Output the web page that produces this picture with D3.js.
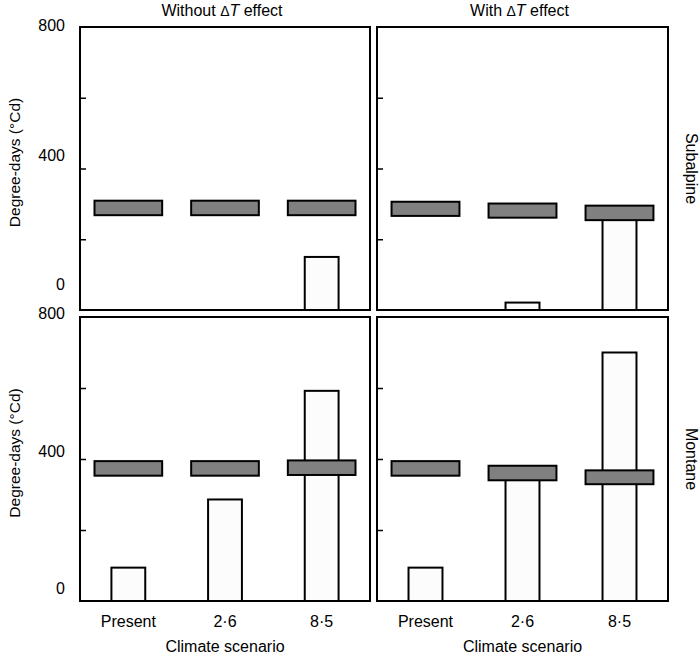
<!DOCTYPE html>
<html>
<head>
<meta charset="utf-8">
<script src="https://cdn.jsdelivr.net/npm/d3@7"></script>
<style>
  body { margin: 0; background: #fff; }
  svg { display: block; font-family: "Liberation Sans", Arial, Helvetica, sans-serif; }
</style>
</head>
<body>
<svg id="chart" width="700" height="656"></svg>
<script>
// ---- data ----
const scenarios = ["Present", "2·6", "8·5"];
const effects = ["Without", "With"];
const zones = ["Subalpine", "Montane"];
const yTickMarks = [200, 400, 600];
const yTickLabels = [0, 400, 800];

// crossbar (grey) low / high, and white bar heights, per panel
// Subalpine, without ΔT effect
const subWithoutLow  = [268, 268, 268];
const subWithoutHigh = [309, 309, 309];
const subWithoutBar  = [0, 0, 150];
// Subalpine, with ΔT effect
const subWithLow  = [266, 261, 254];
const subWithHigh = [306, 301, 295];
const subWithBar  = [0, 21, 262];
// Montane, without ΔT effect
const monWithoutLow  = [353, 353, 355];
const monWithoutHigh = [394, 394, 396];
const monWithoutBar  = [94, 286, 592];
// Montane, with ΔT effect
const monWithLow  = [353, 340, 329];
const monWithHigh = [394, 381, 368];
const monWithBar  = [94, 345, 700];

const panels = [
  {row: 0, col: 0, low: subWithoutLow, high: subWithoutHigh, bar: subWithoutBar},
  {row: 0, col: 1, low: subWithLow, high: subWithHigh, bar: subWithBar},
  {row: 1, col: 0, low: monWithoutLow, high: monWithoutHigh, bar: monWithoutBar},
  {row: 1, col: 1, low: monWithLow, high: monWithHigh, bar: monWithBar}
];

// ---- layout ----
const colX = [[80, 370], [377, 668]];
const rowY = [[27, 310], [317, 601]];
const svg = d3.select("#chart");

panels.forEach(p => {
  const [x0, x1] = colX[p.col];
  const [y0, y1] = rowY[p.row];
  const x = d3.scaleBand().domain(scenarios).range([x0, x1]).padding(0);
  const y = d3.scaleLinear().domain([0, 800]).range([y1, y0]);
  const g = svg.append("g");

  const rows = scenarios.map((s, i) => ({s, low: p.low[i], high: p.high[i], bar: p.bar[i]}));

  // white bars
  g.selectAll("rect.bar").data(rows.filter(d => d.bar > 0)).enter().append("rect")
    .attr("class", "bar")
    .attr("x", d => x(d.s) + x.bandwidth() * 0.325)
    .attr("width", x.bandwidth() * 0.35)
    .attr("y", d => y(d.bar))
    .attr("height", d => y(0) - y(d.bar))
    .attr("fill", "#fcfcfc")
    .attr("stroke", "#000")
    .attr("stroke-width", 2);

  // grey crossbars
  g.selectAll("rect.cb").data(rows).enter().append("rect")
    .attr("class", "cb")
    .attr("x", d => x(d.s) + x.bandwidth() * 0.15)
    .attr("width", x.bandwidth() * 0.7)
    .attr("y", d => y(d.high))
    .attr("height", d => y(d.low) - y(d.high))
    .attr("fill", "#808080")
    .attr("stroke", "#000")
    .attr("stroke-width", 2);

  // y tick marks (inward)
  const axis = d3.axisLeft(y).tickValues(yTickMarks).tickSizeInner(-6).tickSizeOuter(0).tickFormat("");
  const ag = g.append("g").attr("transform", `translate(${x0},0)`).call(axis);
  ag.select(".domain").remove();
  ag.selectAll("line").attr("stroke", "#000").attr("stroke-width", 1.5);

  // frame
  g.append("rect")
    .attr("x", x0).attr("y", y0)
    .attr("width", x1 - x0).attr("height", y1 - y0)
    .attr("fill", "none").attr("stroke", "#000").attr("stroke-width", 2);

  // y tick labels on left column
  if (p.col === 0) {
    const labelY = p.row === 0
      ? d3.scaleLinear().domain([0, 800]).range([290, 31])
      : d3.scaleLinear().domain([0, 800]).range([594, 319]);
    g.selectAll("text.yl").data(yTickLabels).enter().append("text")
      .attr("class", "yl")
      .attr("x", 65)
      .attr("y", d => labelY(d))
      .attr("text-anchor", "end")
      .attr("font-size", 16)
      .attr("fill", "#000")
      .text(d => d);
    g.append("text")
      .attr("transform", `translate(20,${(y0 + y1) / 2 - 6}) rotate(-90)`)
      .attr("text-anchor", "middle")
      .attr("font-size", 15.5)
      .text("Degree-days (°Cd)");
  }

  // x labels on bottom row
  if (p.row === 1) {
    g.selectAll("text.xl").data(scenarios).enter().append("text")
      .attr("class", "xl")
      .attr("x", d => x(d) + x.bandwidth() / 2)
      .attr("y", 627)
      .attr("text-anchor", "middle")
      .attr("font-size", 16)
      .text(d => d);
    g.append("text")
      .attr("x", (x0 + x1) / 2)
      .attr("y", 652)
      .attr("text-anchor", "middle")
      .attr("font-size", 16)
      .text("Climate scenario");
  }

  // column titles
  if (p.row === 0) {
    const t = g.append("text")
      .attr("x", (x0 + x1) / 2 - 3)
      .attr("y", 16)
      .attr("text-anchor", "middle")
      .attr("font-size", 16);
    t.append("tspan").text(effects[p.col] + " ");
    t.append("tspan").attr("font-size", 14).text("Δ");
    t.append("tspan").attr("font-style", "italic").text("T");
    t.append("tspan").text(" effect");
  }

  // strip labels on right column
  if (p.col === 1) {
    g.append("text")
      .attr("transform", `translate(686,${(y0 + y1) / 2}) rotate(90)`)
      .attr("text-anchor", "middle")
      .attr("font-size", 16)
      .text(zones[p.row]);
  }
});
</script>
</body>
</html>
